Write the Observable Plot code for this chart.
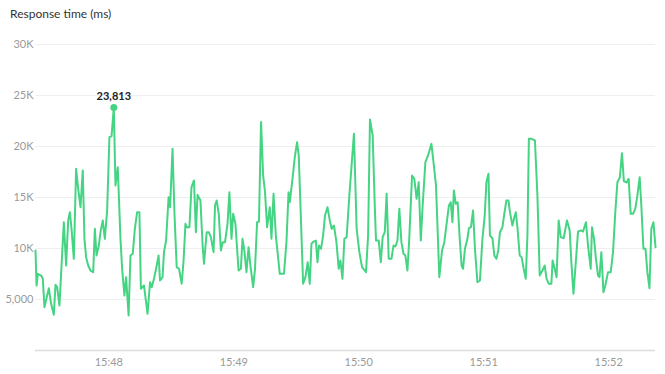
<!DOCTYPE html>
<html><head><meta charset="utf-8">
<script src="https://cdn.jsdelivr.net/npm/d3@7"></script>
<script src="https://cdn.jsdelivr.net/npm/@observablehq/plot@0.6"></script>
<style>
body{margin:0;background:#fff;font-family:Lato,sans-serif}
#wrap{position:relative;width:665px;height:374px;overflow:hidden}
#title{position:absolute;left:10px;top:6px;font-size:12px;color:#333;font-family:Lato,sans-serif}
#wrap svg{position:absolute;left:0;top:0}
</style></head><body><div id="wrap"><div id="title">Response time (ms)</div></div>
<script>
// seconds after 15:47:00
const secs = [
24.8,25.3,25.9,27.5,28.3,29.1,31.2,32.3,33.6,34.4,
35.2,36.3,38.4,39.5,40.5,41.3,42.1,43.2,44.3,45.3,
46.4,47.5,48.3,49.1,50.1,51.2,52.5,53.3,54.1,55.2,
56.0,57.1,58.1,59.2,60.3,61.3,62.4,63.2,64.3,65.6,
66.4,67.5,68.3,69.5,70.4,71.5,72.5,73.6,74.7,75.4,
76.9,78.6,79.8,80.6,81.7,82.7,83.9,84.6,85.8,86.5,
87.5,88.7,89.4,90.6,91.5,92.6,93.7,95.0,95.9,96.8,
97.4,98.7,99.7,100.9,101.8,102.6,104.0,105.0,105.7,107.0,
108.0,109.0,110.3,111.0,111.8,112.8,113.8,114.7,115.8,117.0,
117.9,118.9,119.7,120.8,122.3,123.4,124.2,125.1,126.1,127.1,
128.0,129.3,130.2,131.2,132.1,133.1,134.1,135.0,136.0,137.3,
138.1,139.1,140.2,142.1,144.1,145.3,146.3,146.9,148.2,149.3,
150.4,151.2,152.3,153.3,154.4,155.5,156.5,157.3,158.4,159.4,
160.2,160.9,161.9,162.9,163.8,165.0,166.1,167.0,168.1,169.3,
170.4,171.2,172.2,173.1,174.2,175.5,176.8,177.7,179.0,180.3,
181.6,183.5,184.5,185.4,186.7,187.7,188.3,189.6,190.6,191.5,
192.5,193.4,194.4,195.7,196.7,197.6,198.6,199.5,200.5,201.5,
202.4,203.4,204.3,205.6,206.7,207.8,208.8,209.8,210.7,212.0,
213.3,214.9,215.9,217.1,218.1,218.7,220.0,221.1,223.3,224.2,
225.0,225.7,226.6,227.5,228.5,229.4,230.1,231.0,232.2,232.9,
233.9,234.9,235.8,237.0,238.2,239.4,240.5,241.3,242.3,243.0,
244.2,245.1,246.1,247.0,247.8,249.0,249.9,250.9,251.9,252.6,
253.8,254.5,255.4,256.2,257.3,258.2,259.2,260.2,261.0,261.7,
263.0,264.6,265.8,266.9,268.2,269.3,270.2,271.3,272.5,273.1,
274.1,275.0,276.0,277.0,278.4,280.0,281.3,282.1,283.1,284.0,
285.3,286.6,287.7,289.1,290.1,291.4,292.0,293.0,293.9,294.9,
295.6,296.5,297.5,298.4,299.7,301.0,302.1,303.2,304.2,305.4,
306.4,307.3,308.6,309.6,310.6,311.7,312.8,313.8,314.9,315.7,
316.7,317.7,318.6,319.6,320.5,321.5,322.5];
// response time in ms
const values = [
9800,6370,7520,7350,7030,4250,6110,4580,3500,6440,
6210,4410,12580,8330,12750,13560,11930,8990,17810,15850,
14050,17650,10950,9150,8330,7840,7680,11930,9310,10290,
11600,12750,10950,13730,20920,21000,23813,16180,17970,10950,
8010,5390,7190,3430,9310,9480,11930,13560,13560,6050,
6370,3600,6700,6210,7030,8010,9310,6860,7190,9640,
10780,15030,14050,19770,13560,8170,8010,6540,8820,12420,
12090,12090,16010,16670,11600,15260,14710,10460,8500,11600,
11600,11110,9640,14220,14710,13400,9800,10620,10620,12420,
15520,10950,13400,12420,7840,8010,10950,9800,7680,10130,
8330,6210,8010,12580,12640,22390,17160,15520,12090,14050,
10950,15360,11270,7520,7520,10620,15520,14540,16830,18950,
20420,19120,12580,6540,7190,8660,6540,10460,10680,10780,
8660,10290,9970,11270,13230,14050,12750,11930,12250,10620,
8010,8820,7030,10950,11110,15200,18790,21240,11930,9640,
8170,7680,11270,22650,21080,14220,10780,10780,8660,11110,
11600,15360,8990,8990,10290,10200,10780,13890,10620,9480,
9310,7840,11110,17160,16830,14870,16500,10780,14220,18460,
19120,20260,18460,16180,10620,7190,9800,10620,14220,14540,
12580,15690,14380,14540,10950,8330,8010,9970,10950,11990,
12090,13730,9970,6700,6860,10950,13230,16500,17320,11270,
11010,9310,8990,9800,11600,12090,13400,14710,14710,13560,
12250,12900,13560,12090,9310,9150,8010,7030,11270,20750,
20750,20590,15200,7350,7840,8330,7030,6540,6540,8820,
8010,7190,12750,11110,11010,12750,11770,8660,5560,8010,
11660,11770,11660,12580,10290,8010,12090,10950,8990,7350,
7190,9640,5720,6370,7680,7680,9640,13560,16500,16990,
19350,16600,16470,16830,13400,13400,13890,15200,16990,14220,
9970,9970,7680,6110,11930,12580,10130];
const yTicks = [5000, 10000, 15000, 20000, 25000, 30000];
const xTickLabels = ["15:48", "15:49", "15:50", "15:51", "15:52"];
const peakLabel = "23,813";

const base = Date.UTC(2024, 0, 1, 15, 47, 0);
const n = Math.min(secs.length, values.length);
const data = [];
for (let i = 0; i < n; i++) data.push({t: new Date(base + secs[i] * 1000), v: values[i]});
const peak = data.reduce((a, b) => (b.v > a.v ? b : a));
const xTicks = xTickLabels.map(l => { const [h, m] = l.split(":"); return new Date(Date.UTC(2024, 0, 1, +h, +m, 0)); });
const green = "#45d483";

const plot = Plot.plot({
  width: 665, height: 374,
  marginTop: 44, marginBottom: 24, marginLeft: 35, marginRight: 10,
  style: {fontFamily: "Lato, sans-serif", fontSize: "11px", color: "#9a9a9a", background: "transparent"},
  x: {type: "utc", domain: [data[0].t, data[n - 1].t], ticks: xTicks, tickFormat: d3.utcFormat("%H:%M"), tickSize: 0, tickPadding: 8, label: null},
  y: {domain: [0, 30000], ticks: yTicks, tickFormat: d => (d < 10000 ? d3.format(",")(d) : d / 1000 + "K"), tickSize: 0, tickPadding: 2, label: null},
  marks: [
    Plot.gridY(yTicks, {stroke: "#efefef", strokeOpacity: 1}),
    Plot.ruleY([0], {stroke: "#dcdcdc", strokeWidth: 1.5}),
    Plot.line(data, {x: "t", y: "v", stroke: green, strokeWidth: 2}),
    Plot.dot([peak], {x: "t", y: "v", r: 3.5, fill: green}),
    Plot.text([peak], {x: "t", y: "v", text: () => peakLabel, dy: -11, fontWeight: "bold", fill: "#222", fontSize: 11})
  ]
});
document.getElementById("wrap").appendChild(plot);
</script></body></html>
